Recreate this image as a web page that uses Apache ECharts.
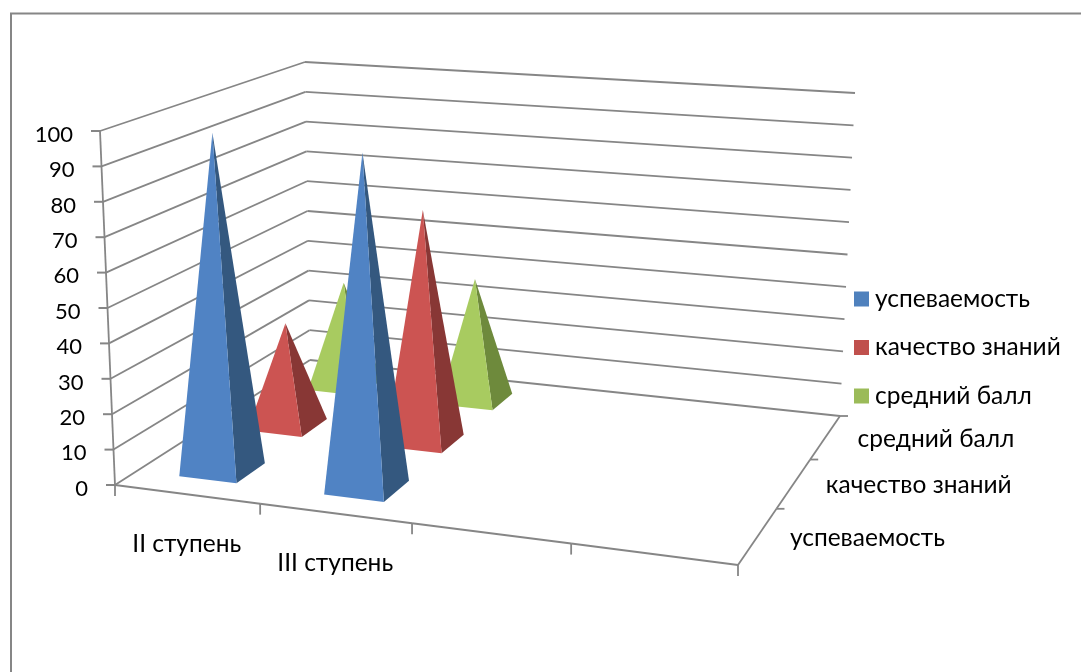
<!DOCTYPE html>
<html><head><meta charset="utf-8">
<style>html,body{margin:0;padding:0;background:#fff}#c{width:1081px;height:672px}</style>
<script src="https://cdn.jsdelivr.net/npm/echarts@6/dist/echarts.min.js"></script>
</head><body><div id="c"></div>
<script>
const categories = ['II ступень', 'III ступень', '', ''];
const seriesNames = ['успеваемость', 'качество знаний', 'средний балл'];
const uspevaemost = [97, 94.5];
const kachestvo = [31, 69];
const sredniy = [33, 38];
const valueTicks = [0, 10, 20, 30, 40, 50, 60, 70, 80, 90, 100];

const FAMILY = 'Lato, "Noto Sans", sans-serif';
const GRAY = '#868686';
const floorQuad = [[115, 485], [738, 565], [840, 416], [310, 360]];
const topQuad = [[100, 131], [768, 181], [855, 93], [305, 62]];

function homography(q) {
  const [p0, p1, p2, p3] = q;
  const dx1 = p1[0] - p2[0], dx2 = p3[0] - p2[0], sx = p0[0] - p1[0] + p2[0] - p3[0];
  const dy1 = p1[1] - p2[1], dy2 = p3[1] - p2[1], sy = p0[1] - p1[1] + p2[1] - p3[1];
  const den = dx1 * dy2 - dx2 * dy1;
  const g = (sx * dy2 - dx2 * sy) / den, h = (dx1 * sy - sx * dy1) / den;
  const a = p1[0] - p0[0] + g * p1[0], b = p3[0] - p0[0] + h * p3[0];
  const d = p1[1] - p0[1] + g * p1[1], e = p3[1] - p0[1] + h * p3[1];
  return (u, v) => {
    const w = g * u + h * v + 1;
    return [(a * u + b * v + p0[0]) / w, (d * u + e * v + p0[1]) / w];
  };
}
const floorH = homography(floorQuad), topH = homography(topQuad);
// u: along categories 0..1, v: depth 0..1, t: value 0..1
function project(u, v, t) {
  const f = floorH(u, v), p = topH(u, v);
  return [f[0] + (p[0] - f[0]) * t, f[1] + (p[1] - f[1]) * t];
}

const GRID_W = 1000, GRID_H = 600; // hidden grid: its scales give u and t
const seriesColors = [
  { legend: '#4F81BD', front: '#5083C4', side: '#34587F' },
  { legend: '#C0504D', front: '#CC5452', side: '#883735' },
  { legend: '#9BBB59', front: '#A8CB60', side: '#6E8A3C' }
];
const HALF_U = 0.05, HALF_V = 0.07;

function pyramidRender(row) {
  return function (params, api) {
    const c = api.coord([api.value(0), api.value(1)]);
    const u = c[0] / GRID_W, t = 1 - c[1] / GRID_H;
    const v = (row + 0.5) / seriesNames.length;
    const fl = project(u - HALF_U, v - HALF_V, 0), fr = project(u + HALF_U, v - HALF_V, 0);
    const br = project(u + HALF_U, v + HALF_V, 0);
    const apex = project(u, v, t);
    return { type: 'group', silent: true, children: [
      { type: 'polygon', shape: { points: [fr, br, apex] }, style: { fill: seriesColors[row].side } },
      { type: 'polygon', shape: { points: [fl, fr, apex] }, style: { fill: seriesColors[row].front } }
    ]};
  };
}
function line(a, b, w) {
  return { type: 'line', shape: { x1: a[0], y1: a[1], x2: b[0], y2: b[1] }, style: { stroke: GRAY, lineWidth: w || 1.8, fill: null } };
}
function text(s, x, y, align, size) {
  return { type: 'text', style: { text: s, x: x, y: y, align: align, verticalAlign: 'middle', font: size + 'px ' + FAMILY, fill: '#000' } };
}
function t01(api, val) { return 1 - api.coord([0, val])[1] / GRID_H; }

const pyramidSeries = [uspevaemost, kachestvo, sredniy].map((vals, row) => ({
  type: 'custom', name: seriesNames[row], z: 5 - row, coordinateSystem: 'cartesian2d',
  itemStyle: { color: seriesColors[row].legend },
  renderItem: pyramidRender(row),
  data: vals.map((v, i) => [i, v])
}));

const option = {
  animation: false,
  backgroundColor: '#fff',
  grid: { left: 0, top: 0, width: GRID_W, height: GRID_H, show: false, outerBoundsMode: 'none', containLabel: false },
  xAxis: { type: 'category', data: categories, show: false },
  yAxis: { type: 'value', min: 0, max: 100, show: false },
  legend: {
    data: seriesNames, orient: 'vertical', left: 854, top: 285, padding: 0, itemWidth: 15, itemHeight: 15,
    itemGap: 48.5 - 28, icon: 'rect', selectedMode: false,
    textStyle: { fontFamily: FAMILY, fontSize: 24.5, color: '#000', lineHeight: 28, padding: [0, 0, 0, 1] }
  },
  graphic: [{ type: 'polyline', silent: true, shape: { points: [[11, 672], [11, 13.5], [1081, 13.5]] }, style: { stroke: GRAY, lineWidth: 2, fill: null } }],
  series: [
    { type: 'custom', z: 1, silent: true, coordinateSystem: 'cartesian2d',
      data: valueTicks.map(v => [0, v]),
      renderItem: (p, api) => {
        const val = api.value(1), t = t01(api, val);
        const a = project(0, 0, t), b = project(0, 1, t), c = project(1, 1, t);
        return { type: 'group', silent: true, children: [
          line(a, b), line(b, c), line([a[0] - 9, a[1]], a, 2),
          text(String(val), a[0] - 27, a[1] + 3.5 + 0.5 * t, 'right', 22)
        ]};
      } },
    { type: 'custom', z: 1, silent: true, coordinateSystem: 'cartesian2d',
      data: categories.map((c, i) => [i, 0]),
      renderItem: (p, api) => {
        const i = p.dataIndex, n = categories.length;
        const a = project(i / n, 0, 0), m = project((i + 0.5) / n, 0, 0);
        const kids = [line(a, [a[0], a[1] + 11]), line(a, project((i + 1) / n, 0, 0), 2)];
        if (categories[i]) kids.push(text(categories[i], m[0], m[1] + 50, 'center', 24.5));
        if (i === n - 1) { const e = project(1, 0, 0); kids.push(line(e, [e[0], e[1] + 11])); }
        return { type: 'group', silent: true, children: kids };
      } },
    { type: 'custom', z: 1, silent: true, coordinateSystem: 'cartesian2d',
      data: seriesNames.map((c, i) => [0, i]),
      renderItem: (p, api) => {
        const i = p.dataIndex, n = seriesNames.length;
        const a = project(1, i / n, 0), b = project(1, (i + 1) / n, 0), m = project(1, (i + 0.5) / n, 0);
        return { type: 'group', silent: true, children: [
          line(a, b), line(b, [b[0] + 8, b[1]]),
          text(seriesNames[i], m[0] + 32, m[1] + 2, 'left', 24.5)
        ]};
      } },
    { type: 'custom', z: 1, silent: true, coordinateSystem: 'cartesian2d',
      data: [[0, 0]],
      renderItem: () => line(project(0, 0, 0), project(0, 0, 1))
    }
  ].concat(pyramidSeries)
};
echarts.init(document.getElementById('c'), null, { renderer: 'canvas' }).setOption(option);
</script></body></html>
